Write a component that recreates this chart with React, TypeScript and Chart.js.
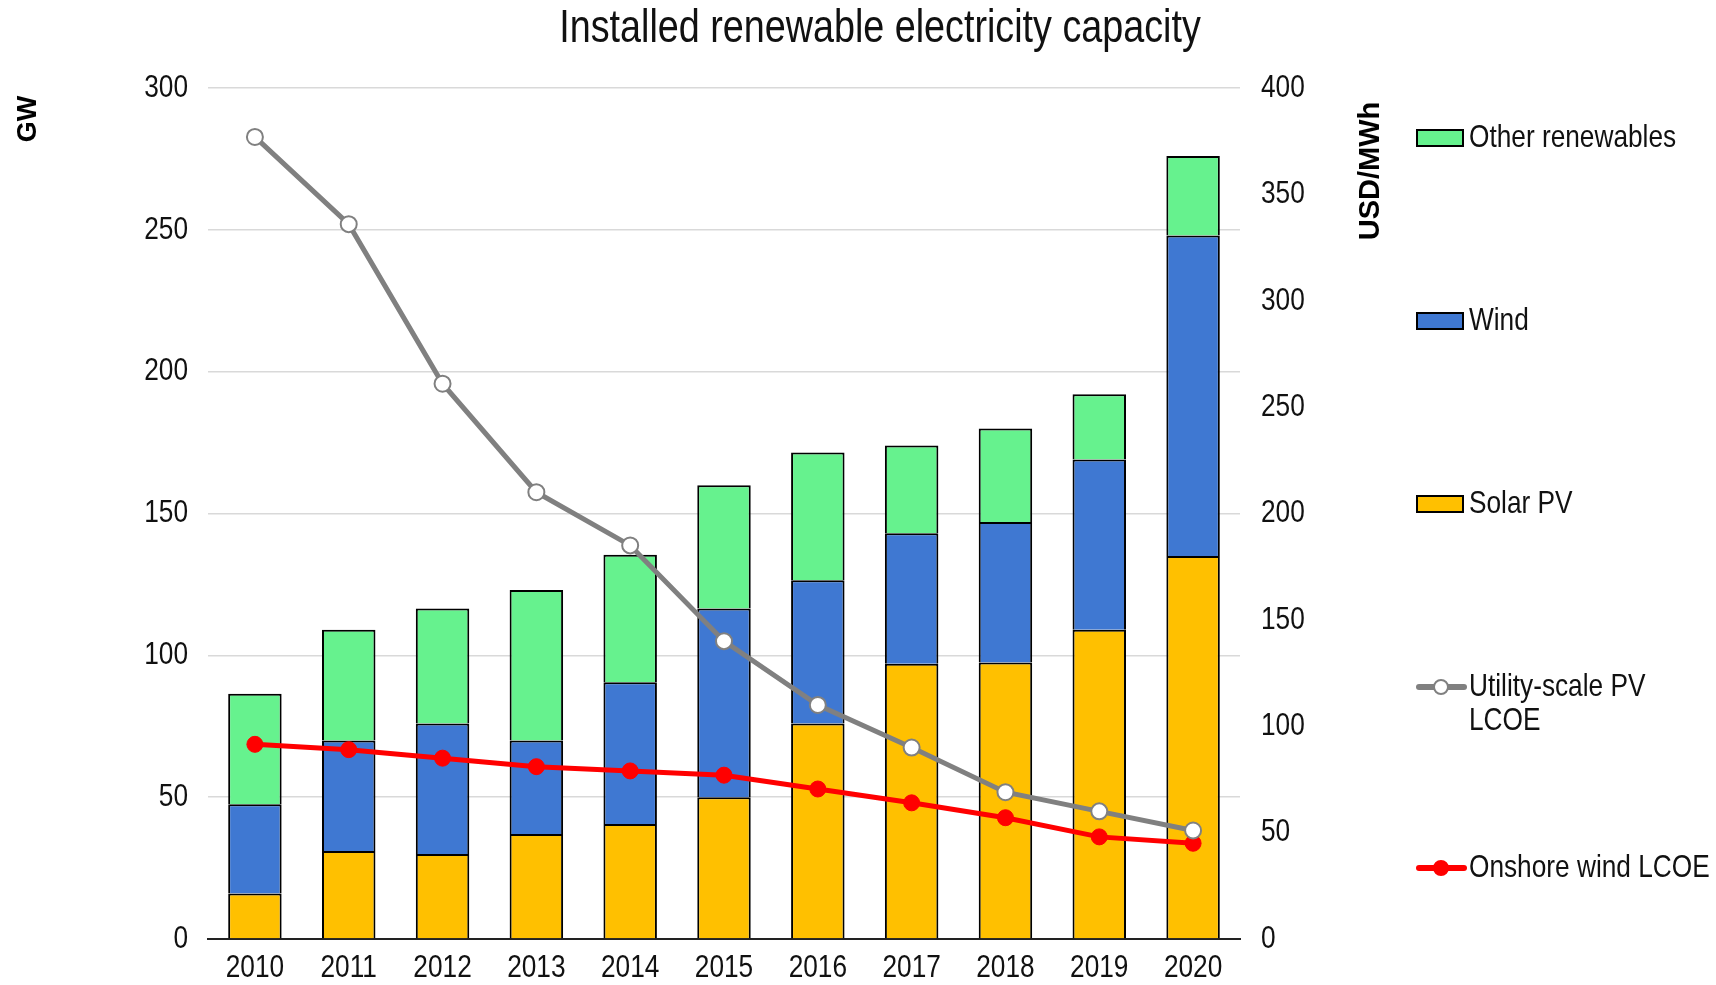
import React, { useEffect, useRef } from "react";
import { Chart, registerables } from "chart.js";

Chart.register(...registerables);

const categories = ["2010", "2011", "2012", "2013", "2014", "2015", "2016", "2017", "2018", "2019", "2020"];
const solarPV = [16, 31, 30, 37, 40.5, 50, 76, 97, 97.5, 109, 135];
const wind = [31.5, 39, 46, 33, 50, 66.5, 50.5, 46, 49.5, 60, 113];
const otherRenewables = [39, 39, 40.5, 53, 45, 43.5, 45, 31, 33, 23, 28];
const pvLcoe = [377, 336, 261, 210, 185, 140, 110, 90, 69, 60, 51];
const windLcoe = [91.5, 89, 85, 81, 79, 77, 70.5, 64, 57, 48, 45];

const titleText = "Installed renewable electricity capacity";
const leftAxisTitle = "GW";
const rightAxisTitle = "USD/MWh";
const legendLabels = ["Other renewables", "Wind", "Solar PV", "Utility-scale PV\nLCOE", "Onshore wind LCOE"];

const SANS = '"Liberation Sans", Arial, sans-serif';
const NARROW_SCALE = 0.82;

const C_SOLAR = "#FFC000";
const C_WIND = "#3F78D2";
const C_OTHER = "#66F28E";
const C_PV = "#808080";
const C_WINDL = "#FF0000";

function narrowText(ctx: any, text: string, x: number, y: number, size: number, align: string, baseline = "middle") {
  ctx.save();
  ctx.translate(x, y);
  ctx.scale(NARROW_SCALE, 1);
  ctx.font = `${size}px ${SANS}`;
  ctx.textAlign = align;
  ctx.textBaseline = baseline;
  ctx.fillStyle = "#111";
  ctx.fillText(text, 0, 0);
  ctx.restore();
}

const overlay = {
  id: "overlay",
  afterDraw(chart: any) {
    const ctx = chart.ctx;
    const area = chart.chartArea;
    ctx.save();

    // tick labels (Arial-Narrow-like, through the chart's scales)
    const ys = chart.scales.y;
    ys.ticks.forEach((t: any) => {
      narrowText(ctx, String(t.value), area.left - 20, ys.getPixelForValue(t.value), 32, "right");
    });
    const y1 = chart.scales.y1;
    y1.ticks.forEach((t: any) => {
      narrowText(ctx, String(t.value), area.right + 21, y1.getPixelForValue(t.value), 32, "left");
    });
    const xs = chart.scales.x;
    categories.forEach((c, i) => {
      narrowText(ctx, c, xs.getPixelForValue(i), area.bottom + 29, 32, "center");
    });

    // title
    narrowText(ctx, titleText, 880, 42, 46, "center", "alphabetic");

    // axis titles (rotated, reading bottom-to-top)
    ctx.fillStyle = "#000";
    ctx.textAlign = "center";
    ctx.textBaseline = "middle";
    ctx.font = `bold 27px ${SANS}`;
    ctx.save();
    ctx.translate(29, 119);
    ctx.rotate(-Math.PI / 2);
    ctx.fillText(leftAxisTitle, 0, 0);
    ctx.restore();
    ctx.font = `bold 29px ${SANS}`;
    ctx.save();
    ctx.translate(1371, 171);
    ctx.rotate(-Math.PI / 2);
    ctx.fillText(rightAxisTitle, 0, 0);
    ctx.restore();

    // legend
    const rows = [138, 321, 504, 687, 868];
    const kinds = ["box", "box", "box", "line", "line"];
    const colors = [C_OTHER, C_WIND, C_SOLAR, C_PV, C_WINDL];
    legendLabels.forEach((lab, i) => {
      const y = rows[i];
      if (kinds[i] === "box") {
        ctx.fillStyle = colors[i];
        ctx.fillRect(1417, y - 8, 46, 16);
        ctx.strokeStyle = "#000";
        ctx.lineWidth = 2;
        ctx.strokeRect(1417, y - 8, 46, 16);
      } else {
        ctx.strokeStyle = colors[i];
        ctx.lineWidth = 6;
        ctx.lineCap = "round";
        ctx.beginPath();
        ctx.moveTo(1419, y);
        ctx.lineTo(1464, y);
        ctx.stroke();
        ctx.beginPath();
        ctx.arc(1441, y, 7, 0, Math.PI * 2);
        ctx.fillStyle = i === 3 ? "#fff" : colors[i];
        ctx.fill();
        ctx.lineWidth = 2;
        ctx.strokeStyle = colors[i];
        ctx.stroke();
      }
      lab.split("\n").forEach((line, j) => {
        narrowText(ctx, line, 1469, y + j * 34, 32, "left");
      });
    });
    ctx.restore();
  },
};

export default function App() {
  const ref = useRef<HTMLCanvasElement | null>(null);

  useEffect(() => {
    if (!ref.current) return;
    const chart = new Chart(ref.current, {
      type: "bar",
      data: {
        labels: categories,
        datasets: [
          {
            type: "line",
            label: "Utility-scale PV LCOE",
            data: pvLcoe,
            yAxisID: "y1",
            borderColor: C_PV,
            borderWidth: 5,
            pointRadius: 8,
            pointBackgroundColor: "#fff",
            pointBorderColor: C_PV,
            pointBorderWidth: 2,
            tension: 0,
            order: 0,
          } as any,
          {
            type: "line",
            label: "Onshore wind LCOE",
            data: windLcoe,
            yAxisID: "y1",
            borderColor: C_WINDL,
            borderWidth: 5,
            pointRadius: 8,
            pointBackgroundColor: C_WINDL,
            pointBorderColor: C_WINDL,
            pointBorderWidth: 1,
            tension: 0,
            order: 0,
          } as any,
          {
            label: "Solar PV",
            data: solarPV,
            backgroundColor: C_SOLAR,
            borderColor: "#000",
            borderWidth: 2,
            yAxisID: "y",
            order: 1,
          },
          {
            label: "Wind",
            data: wind,
            backgroundColor: C_WIND,
            borderColor: "#000",
            borderWidth: 2,
            yAxisID: "y",
            order: 1,
          },
          {
            label: "Other renewables",
            data: otherRenewables,
            backgroundColor: C_OTHER,
            borderColor: "#000",
            borderWidth: 2,
            yAxisID: "y",
            order: 1,
          },
        ],
      },
      options: {
        animation: false,
        responsive: false,
        maintainAspectRatio: false,
        layout: { padding: { top: 88, bottom: 0, left: 0, right: 0 } },
        datasets: { bar: { categoryPercentage: 1, barPercentage: 0.57 } },
        plugins: { legend: { display: false }, title: { display: false }, tooltip: { enabled: false } },
        scales: {
          x: {
            stacked: true,
            grid: { display: false, drawTicks: false },
            border: { display: true, color: "#222", width: 2 },
            ticks: { color: "rgba(0,0,0,0)", font: { family: SANS, size: 26 }, padding: 9, maxRotation: 0 },
            afterFit: (s: any) => { s.height = 46; },
          },
          y: {
            stacked: true,
            position: "left",
            min: 0,
            max: 300,
            ticks: { stepSize: 50, color: "rgba(0,0,0,0)", font: { family: SANS, size: 26 }, padding: 20 },
            grid: {
              drawTicks: false,
              color: (c: any) => (c.tick && c.tick.value === 0 ? "rgba(0,0,0,0)" : "#D9D9D9"),
              lineWidth: 1.5,
            },
            border: { display: false },
            afterFit: (s: any) => { s.width = 208; },
          },
          y1: {
            position: "right",
            min: 0,
            max: 400,
            ticks: { stepSize: 50, color: "rgba(0,0,0,0)", font: { family: SANS, size: 26 }, padding: 21 },
            grid: { display: false, drawTicks: false },
            border: { display: false },
            afterFit: (s: any) => { s.width = 476; },
          },
        },
      },
      plugins: [overlay],
    });
    return () => chart.destroy();
  }, []);

  return (
    <div style={{ position: "absolute", left: 0, top: 0, width: 1716, height: 985, background: "#fff" }}>
      <canvas ref={ref} width={1716} height={985} style={{ width: 1716, height: 985, display: "block" }} />
    </div>
  );
}
